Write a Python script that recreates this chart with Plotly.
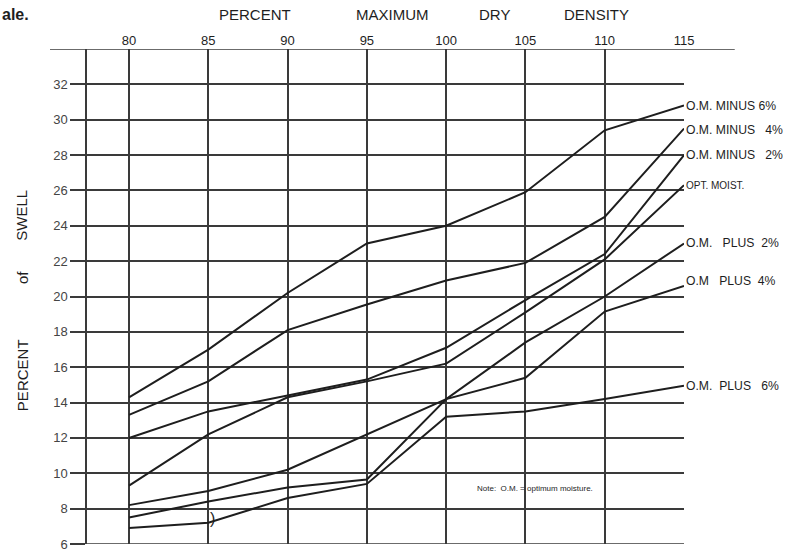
import plotly.graph_objects as go

density = [80, 85, 90, 95, 100, 105, 110, 115]

om_minus_6 = [14.3, 17.0, 20.2, 23.0, 24.0, 25.9, 29.4, 30.8]
om_minus_4 = [13.3, 15.2, 18.1, 19.55, 20.9, 21.9, 24.5, 29.5]
om_minus_2 = [12.0, 13.5, 14.4, 15.3, 17.1, 19.8, 22.4, 28.0]
opt_moist = [9.3, 12.2, 14.3, 15.2, 16.2, 19.1, 22.1, 26.3]
om_plus_2 = [8.2, 9.0, 10.2, 12.2, 14.2, 17.4, 20.0, 23.0]
om_plus_4 = [7.5, 8.4, 9.2, 9.65, 14.2, 15.4, 19.15, 20.6]
om_plus_6 = [6.9, 7.2, 8.6, 9.4, 13.2, 13.5, 14.2, 14.95]

series = [
    ("O.M.\u00a0MINUS\u00a06%", om_minus_6, 30.8),
    ("O.M.\u00a0MINUS\u00a0\u00a0\u00a04%", om_minus_4, 29.4),
    ("O.M.\u00a0MINUS\u00a0\u00a0\u00a02%", om_minus_2, 28.0),
    ("OPT.\u00a0MOIST.", opt_moist, 26.3),
    ("O.M.\u00a0\u00a0\u00a0PLUS\u00a0\u00a02%", om_plus_2, 23.0),
    ("O.M\u00a0\u00a0\u00a0PLUS\u00a0\u00a04%", om_plus_4, 20.9),
    ("O.M.\u00a0\u00a0PLUS\u00a0\u00a0\u00a06%", om_plus_6, 14.95),
]

x_ticks = [80, 85, 90, 95, 100, 105, 110, 115]
y_ticks = [6, 8, 10, 12, 14, 16, 18, 20, 22, 24, 26, 28, 30, 32]
title_words = [("PERCENT", 0.281), ("MAXIMUM", 0.511), ("DRY", 0.683), ("DENSITY", 0.854)]
ytitle_words = [("SWELL", 0.665), ("of", 0.539), ("PERCENT", 0.341)]

FONT = "Liberation Sans, Arial, sans-serif"
INK = "#1e1e1e"
GRID = "#3a3a3a"

fig = go.Figure()
for name, vals, _ in series:
    fig.add_trace(go.Scatter(x=density, y=vals, mode="lines",
                             line=dict(color=INK, width=2), showlegend=False,
                             hoverinfo="skip", name=name))

annotations = []
for name, vals, ly in series:
    small = name.startswith("OPT")
    annotations.append(dict(x=115, y=ly, xref="x", yref="y", text=name,
                            showarrow=False, xanchor="left", yanchor="middle",
                            xshift=0,
                            font=dict(family=FONT, size=10 if small else 12.2, color=INK)))

for w, px in title_words:
    annotations.append(dict(x=px, y=1.069, xref="paper", yref="paper", text=w,
                            showarrow=False, xanchor="center", yanchor="middle",
                            font=dict(family=FONT, size=15, color=INK)))
for w, py in ytitle_words:
    annotations.append(dict(x=-0.109, y=py, xref="paper", yref="paper", text=w,
                            showarrow=False, textangle=-90, xanchor="center", yanchor="middle",
                            font=dict(family=FONT, size=15, color=INK)))
annotations.append(dict(x=-0.146, y=1.069, xref="paper", yref="paper", text="<b>ale.</b>",
                        showarrow=False, xanchor="left", yanchor="middle",
                        font=dict(family=FONT, size=16, color=INK)))
annotations.append(dict(x=101.8, y=9.16, xref="x", yref="y",
                        text="Note:\u00a0\u00a0O.M.\u00a0=\u00a0optimum\u00a0moisture.",
                        showarrow=False, xanchor="left", yanchor="middle",
                        font=dict(family=FONT, size=8, color=INK)))
annotations.append(dict(x=85.25, y=7.45, xref="x", yref="y", text=")",
                        showarrow=False, xanchor="center", yanchor="middle",
                        font=dict(family=FONT, size=16, color=INK)))

fig.update_layout(
    width=791, height=550,
    margin=dict(l=87, r=107, t=49, b=6, autoexpand=False),
    paper_bgcolor="white", plot_bgcolor="white",
    annotations=annotations,
    shapes=[dict(type="line", xref="paper", yref="y", x0=-0.062, x1=1.085, y0=34, y1=34,
                 line=dict(color=GRID, width=1.5)),
            dict(type="line", xref="paper", yref="y", x0=0, x1=1, y0=6, y1=6,
                 line=dict(color=GRID, width=1.5))],
    xaxis=dict(range=[77.35, 115], side="top", tickvals=x_ticks, automargin=False,
               ticktext=[str(v) for v in x_ticks], showgrid=True, gridcolor=GRID,
               gridwidth=1.5, zeroline=False, showline=False, ticks="",
               tickfont=dict(family=FONT, size=13, color=INK)),
    yaxis=dict(range=[6, 34], tickvals=y_ticks, showgrid=True, gridcolor=GRID,
               gridwidth=1.5, zeroline=False, showline=True, linecolor=GRID, linewidth=1.5,
               ticks="outside", ticklen=15, tickwidth=1.5, tickcolor=GRID,
               ticklabeloverflow="allow", automargin=False,
               tickfont=dict(family=FONT, size=13, color="#444")),
)

fig.write_html("out.html", config={"displayModeBar": False},
               post_script="document.body.style.margin='0';document.body.style.padding='0';")
